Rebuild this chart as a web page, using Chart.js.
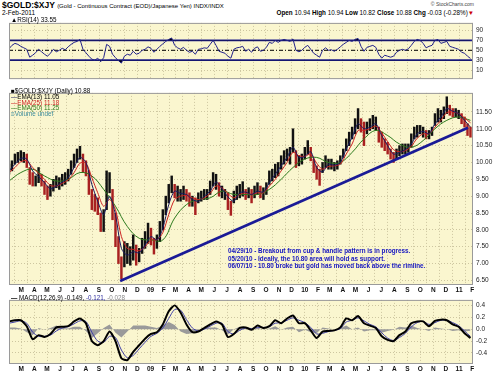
<!DOCTYPE html>
<html>
<head>
<meta charset="utf-8">
<script src="https://cdn.jsdelivr.net/npm/chart.js@4.4.0/dist/chart.umd.min.js"></script>
<style>
  body { margin: 0; background: #fff; width: 500px; height: 374px; overflow: hidden; position: relative;
         font-family: "Liberation Sans", Arial, sans-serif; }
  canvas { position: absolute; left: 0; }
  .t { position: absolute; white-space: nowrap; line-height: 1; color: #000; }
  .b { font-weight: bold; }
</style>
</head>
<body>
<div class="t b" style="left:2px;top:1px;font-size:8.5px">$GOLD:$XJY <span style="font-size:6px;font-weight:normal">(Gold - Continuous Contract (EOD)/Japanese Yen) INDX/INDX</span></div>
<div class="t" style="left:2px;top:10px;font-size:6.5px">2-Feb-2011</div>
<div class="t" style="right:26px;top:2px;font-size:5px;color:#444">© StockCharts.com</div>
<div class="t" style="right:26px;top:10px;font-size:6.3px"><b>Open</b> 10.94 <b>High</b> 10.94 <b>Low</b> 10.82 <b>Close</b> 10.88 <b>Chg</b> -0.03 (-0.28%)<span style="color:#c00">▼</span></div>

<canvas id="rsi" width="500" height="70" style="top:16px"></canvas>
<canvas id="price" width="500" height="207" style="top:86px"></canvas>
<canvas id="macd" width="500" height="79" style="top:293px"></canvas>

<div class="t" style="left:11px;top:17px;font-size:6.3px">▲RSI(14) 33.55</div>
<div class="t" style="left:11px;top:88px;font-size:6.3px;line-height:5.8px">
  <div>■$GOLD:$XJY (Daily) 10.88</div>
  <div><span style="color:#1a1a60">—</span>EMA(13) 11.05</div>
  <div><span style="color:#cc2222">—EMA(25) 11.18</span></div>
  <div><span style="color:#2d7a1d">—EMA(50) 11.25</span></div>
  <div style="color:#3a8a9a">≡Volume undef</div>
</div>
<div class="t b" style="left:228px;top:247px;font-size:6.3px;color:#1212c0;line-height:7.6px">
  <div>04/29/10 - Breakout from cup &amp; handle pattern is in progress.</div>
  <div>05/20/10 - Ideally, the 10.80 area will hold as support.</div>
  <div>06/07/10 - 10.80 broke but gold has moved back above the rimline.</div>
</div>
<div class="t" style="left:11px;top:295px;font-size:6.3px"><b>—</b> MACD(12,26,9) -0.149, <span style="color:#3030a0">-0.121,</span> <span style="color:#888">-0.028</span></div>

<script>
// axis labels
const monthLabels = ['M','A','M','J','J','A','S','O','N','D','09','F','M','A','M','J','J','A','S','O','N','D',
                     '10','F','M','A','M','J','J','A','S','O','N','D','11','F'];
const rsiTicks = [10, 30, 50, 70, 90];
const priceTicks = [6.5, 6.75, 7, 7.25, 7.5, 7.75, 8, 8.25, 8.5, 8.75, 9, 9.25, 9.5, 9.75,
                    10, 10.25, 10.5, 10.75, 11, 11.25, 11.5, 11.75];
const macdTicks = [-0.4, -0.2, 0, 0.2, 0.4];

// weekly high / low (first week = 1-Feb-2008)
const weekHigh = [
  9.95,10.05,10.25,10.3,10.35,10.3,10.25,9.85,9.7,9.6,
  9.85,9.65,9.45,9.3,9.35,9.5,9.6,9.55,9.65,9.7,
  9.8,10.05,10.25,10.4,10.48,10.25,10.05,9.75,9.2,9.05,
  8.95,8.5,8.6,9.75,9.7,9.2,8.5,7.8,7.2,7.65,
  7.6,7.5,7.85,7.55,7.45,7.75,7.95,8.2,8.05,7.75,
  7.85,8.25,8.6,9.0,9.35,9.6,9.35,9.3,9.2,9.3,
  9.2,9.1,9.0,8.95,9.1,9.15,9.2,9.2,9.45,9.7,
  9.65,9.4,9.3,9.2,9.1,8.85,9.15,9.3,9.35,9.43,
  9.2,9.25,9.2,9.3,9.4,9.3,9.25,9.4,9.75,9.8,
  9.95,10.0,10.2,10.35,10.4,10.45,11.0,10.35,10.2,10.25,
  10.45,10.65,10.45,10.1,9.9,9.8,10.0,10.2,10.1,10.1,
  10.0,10.05,10.2,10.4,10.7,10.9,11.05,11.3,11.6,11.3,
  11.2,11.2,11.3,11.4,11.35,11.05,10.9,10.7,10.6,10.4,
  10.3,10.4,10.5,10.55,10.55,10.55,10.85,11.05,11.1,11.1,
  11.05,10.95,10.95,11.05,11.45,11.6,11.55,11.65,11.95,11.7,
  11.6,11.6,11.55,11.45,11.35,11.15,11.05
];
const weekLow = [
  9.65,9.75,9.95,10.0,10.05,10.0,9.85,9.35,9.3,9.3,
  9.4,9.3,9.05,8.9,9.0,9.15,9.25,9.2,9.3,9.35,
  9.45,9.65,9.85,10.0,10.1,9.7,9.6,9.05,8.6,8.55,
  8.45,7.95,7.95,8.6,9.1,8.3,7.5,7.0,6.55,6.9,
  7.0,6.95,7.1,6.95,7.05,7.3,7.45,7.6,7.55,7.28,
  7.45,7.65,8.0,8.45,8.8,9.1,8.95,8.85,8.85,8.9,
  8.85,8.7,8.7,8.45,8.8,8.85,8.9,8.9,9.05,9.3,
  9.2,9.0,8.95,8.9,8.6,8.43,8.8,8.9,8.95,9.0,
  8.9,8.95,8.8,8.95,9.05,8.95,8.9,9.05,9.35,9.45,
  9.55,9.6,9.8,9.95,10.05,9.95,10.3,9.85,9.9,9.95,
  10.1,10.25,10.05,9.7,9.5,9.32,9.7,9.85,9.8,9.8,
  9.75,9.8,9.95,10.15,10.35,10.5,10.7,10.85,11.0,10.9,
  10.5,10.85,10.95,11.0,10.95,10.6,10.45,10.35,10.25,10.1,
  10.0,10.1,10.2,10.25,10.25,10.3,10.45,10.7,10.75,10.85,
  10.75,10.7,10.7,10.8,11.1,11.2,11.2,11.3,11.45,11.4,
  11.35,11.35,11.3,11.15,11.05,10.8,10.75
];

// moving averages, every 2 weeks (13, 25) and every 4 weeks (50)
const ema13 = [
  9.75,9.95,10.12,10.1,9.75,9.58,9.4,9.22,9.3,9.42,
  9.55,9.85,10.15,10.0,9.35,8.85,8.45,9.0,8.45,7.45,
  7.25,7.35,7.32,7.55,7.8,7.7,8.05,8.75,9.15,9.08,
  9.05,8.9,8.85,9.0,9.15,9.42,9.22,8.98,8.85,9.1,
  9.12,9.05,9.15,9.12,9.4,9.65,9.9,10.15,10.45,10.15,
  10.18,10.32,9.85,9.72,9.95,9.92,10.0,10.4,10.75,11.15,
  11.0,11.05,11.15,10.8,10.5,10.25,10.3,10.38,10.55,10.85,
  10.92,10.85,11.15,11.35,11.6,11.52,11.45,11.25,11.05
];
const ema25 = [
  9.7,9.85,10.02,10.05,9.85,9.68,9.5,9.32,9.3,9.38,
  9.48,9.7,9.98,9.98,9.55,9.1,8.7,8.9,8.6,7.8,
  7.45,7.42,7.38,7.5,7.7,7.7,7.92,8.45,8.9,9.0,
  9.02,8.95,8.9,8.95,9.08,9.3,9.25,9.08,8.95,9.05,
  9.1,9.05,9.1,9.1,9.3,9.5,9.75,10.0,10.3,10.2,
  10.18,10.25,9.98,9.8,9.88,9.9,9.95,10.25,10.55,10.95,
  10.95,11.0,11.08,10.88,10.62,10.38,10.32,10.35,10.48,10.72,
  10.85,10.85,11.05,11.25,11.48,11.5,11.45,11.32,11.18
];
const ema50 = [
  9.45,9.7,9.8,9.6,9.45,9.5,9.7,9.6,9.2,8.7,
  8.1,7.75,7.7,7.7,8.35,8.75,8.9,8.95,9.15,9.05,
  9.05,9.05,9.2,9.5,9.85,10.1,10.15,10.0,10.0,10.3,
  10.7,10.95,10.8,10.55,10.45,10.65,11.0,11.25,11.35,11.25
];
// trend line end points (day, value)
const trendDays = [263, 1086];
const trendValues = [6.48, 11.03];

// weekly RSI(14)
const rsiValues = [
  53,60,64,62,58,55,52,36,40,45,
  52,47,42,38,44,52,47,50,54,51,
  57,62,66,68,72,52,45,38,32,30,
  34,27,35,62,58,42,35,29,24,38,
  42,40,48,42,44,50,52,57,54,46,
  52,58,63,68,72,75,60,55,52,56,
  50,46,48,42,52,53,55,54,62,70,
  60,48,46,44,38,34,52,55,56,58,
  48,52,46,54,57,48,50,56,66,64,
  70,66,70,72,70,68,73,50,47,50,
  56,60,52,44,40,36,50,55,50,51,
  48,52,57,62,66,70,68,72,74,58,
  48,56,58,60,56,42,34,40,38,36,
  38,46,50,52,50,53,60,68,72,70,
  64,55,58,60,70,72,64,66,68,58,
  56,54,52,46,44,38,33.55
];

// MACD(12,26,9), every 2 weeks
const macdLine = [
  0.13,0.15,0.15,0.05,-0.17,-0.1,-0.13,-0.08,0.03,0.04,
  0.05,0.13,0.18,0.1,-0.2,-0.27,-0.2,-0.04,-0.2,-0.49,
  -0.52,-0.38,-0.27,-0.16,-0.08,-0.05,0.08,0.3,0.4,0.28,
  0.08,-0.05,-0.04,0.02,0.08,0.13,0.08,-0.13,-0.08,0.02,
  0.03,-0.01,0.06,0.02,0.05,0.15,0.1,0.18,0.23,0.1,
  0.1,-0.02,-0.15,-0.04,-0.03,-0.02,0.03,0.18,0.15,0.22,
  0.1,0.06,0.02,-0.12,-0.18,-0.2,-0.1,-0.04,0.1,0.13,
  0.13,0.05,0.14,0.16,0.15,0.08,0.04,-0.07,-0.149
];
const signalLine = [
  0.1,0.12,0.14,0.1,-0.05,-0.12,-0.12,-0.1,-0.03,0.02,
  0.04,0.09,0.14,0.13,-0.05,-0.2,-0.22,-0.12,-0.14,-0.35,
  -0.48,-0.44,-0.33,-0.22,-0.12,-0.07,0.02,0.18,0.33,0.32,
  0.16,0.02,-0.03,0.0,0.05,0.1,0.1,-0.04,-0.08,-0.02,
  0.02,0.01,0.03,0.03,0.04,0.1,0.11,0.15,0.19,0.15,
  0.11,0.03,-0.08,-0.07,-0.04,-0.02,0.01,0.12,0.15,0.19,
  0.14,0.08,0.04,-0.06,-0.15,-0.19,-0.14,-0.07,0.04,0.11,
  0.13,0.08,0.11,0.15,0.15,0.11,0.06,-0.03,-0.121
];
const macdHist = [
  0.03,0.03,0.01,-0.05,-0.1,0.02,-0.01,0.02,0.06,0.02,
  0.01,0.04,0.04,-0.03,-0.15,-0.07,0.02,0.08,-0.06,-0.14,
  -0.04,0.06,0.06,0.06,0.04,0.02,0.06,0.12,0.07,-0.04,
  -0.08,-0.07,-0.01,0.02,0.03,0.03,-0.02,-0.09,0.0,0.04,
  0.01,-0.02,0.03,-0.01,0.01,0.05,-0.01,0.03,0.04,-0.05,
  -0.01,-0.05,-0.07,0.03,0.01,0.0,0.02,0.06,0.0,0.03,
  -0.04,-0.02,-0.02,-0.06,-0.03,-0.01,0.04,0.03,0.06,0.02,
  0.0,-0.03,0.03,0.01,0.0,-0.03,-0.02,-0.04,-0.028
];

// ---- setup ----
const dayMax = 1098;
const origin = Date.UTC(2008, 1, 1);
const monthDays = monthLabels.map((_, i) => (Date.UTC(2008, 2 + i, 1) - origin) / 86400000);
const pts = (arr, step) => arr.map((v, i) => ({ x: i * step, y: v }));

const gridColor = '#cdc6a0';
const tickFont = { family: '"Liberation Sans", Arial, sans-serif', size: 6.5 };

function xAxis(showLabels) {
  return {
    type: 'linear', min: 0, max: dayMax, offset: false,
    afterBuildTicks: s => { s.ticks = monthDays.map(v => ({ value: v })); },
    afterFit: s => { s.height = showLabels ? 8 : 0; },
    grid: { color: gridColor, drawTicks: false },
    border: { display: false, dash: [1, 2] },
    ticks: { display: showLabels, autoSkip: false, maxRotation: 0, padding: 1,
             font: { ...tickFont, weight: 'bold' }, color: '#111',
             callback: (v, i) => monthLabels[i] }
  };
}
function yAxis(min, max, ticks, digits) {
  return {
    position: 'right', min: min, max: max,
    afterBuildTicks: s => { s.ticks = ticks.map(v => ({ value: v })); },
    afterFit: s => { s.width = 27; },
    grid: { color: gridColor, drawTicks: false },
    border: { display: false, dash: [1, 2] },
    ticks: { padding: 3, font: tickFont, color: '#222', callback: v => v.toFixed(digits) }
  };
}

const panel = {
  id: 'panel',
  beforeDraw(chart) {
    const { ctx, chartArea: a } = chart;
    ctx.save();
    ctx.fillStyle = '#faf6cf';
    ctx.fillRect(a.left, a.top, a.width, a.height);
    ctx.restore();
  },
  afterDraw(chart) {
    const { ctx, chartArea: a } = chart;
    ctx.save();
    ctx.strokeStyle = '#9a9a9a';
    ctx.lineWidth = 1;
    ctx.strokeRect(a.left + 0.5, a.top + 0.5, a.width - 1, a.height - 1);
    ctx.restore();
  }
};

const common = {
  responsive: false, animation: false, devicePixelRatio: 1, events: [],
  layout: { padding: { left: 9, right: 0, top: 0, bottom: 0 } },
  plugins: { legend: { display: false }, tooltip: { enabled: false } }
};

// RSI panel
const rsiLevels = {
  id: 'rsiLevels',
  beforeDatasetsDraw(chart) {
    const { ctx, chartArea: a, scales: { y } } = chart;
    ctx.save();
    ctx.strokeStyle = '#1c1c8c';
    ctx.lineWidth = 1.6;
    [70, 30].forEach(v => {
      const py = y.getPixelForValue(v);
      ctx.beginPath(); ctx.moveTo(a.left, py); ctx.lineTo(a.right, py); ctx.stroke();
    });
    ctx.strokeStyle = '#000';
    ctx.lineWidth = 1;
    ctx.setLineDash([4, 2, 1, 2]);
    const p50 = y.getPixelForValue(50);
    ctx.beginPath(); ctx.moveTo(a.left, p50); ctx.lineTo(a.right, p50); ctx.stroke();
    ctx.restore();
  }
};
new Chart(document.getElementById('rsi'), {
  type: 'line',
  data: { datasets: [
    { data: pts(rsiValues, 7), borderColor: '#22228a', borderWidth: 1, pointRadius: 0, tension: 0 },
    { data: pts(rsiValues, 7), borderWidth: 0, pointRadius: 0, tension: 0,
      fill: { target: { value: 70 }, above: '#000', below: 'rgba(0,0,0,0)' } },
    { data: pts(rsiValues, 7), borderWidth: 0, pointRadius: 0, tension: 0,
      fill: { target: { value: 30 }, above: 'rgba(0,0,0,0)', below: '#000' } }
  ] },
  options: { ...common, scales: { x: xAxis(false), y: yAxis(-8.4, 105.5, rsiTicks, 0) } },
  plugins: [panel, rsiLevels]
});

// price panel
const barColors = weekHigh.map((h, i) =>
  i > 0 && (h + weekLow[i]) < (weekHigh[i - 1] + weekLow[i - 1]) - 0.15 ? '#a82020' : '#111');
new Chart(document.getElementById('price'), {
  type: 'bar',
  data: { datasets: [
    { type: 'line', data: trendDays.map((d, i) => ({ x: d, y: trendValues[i] })),
      borderColor: '#1a1a96', borderWidth: 2.6, pointRadius: 0, order: 0 },
    { type: 'line', data: pts(ema13, 14), borderColor: '#1a1a60', borderWidth: 1, pointRadius: 0, tension: 0.3, order: 1 },
    { type: 'line', data: pts(ema25, 14), borderColor: '#cc2222', borderWidth: 1, pointRadius: 0, tension: 0.3, order: 2 },
    { type: 'line', data: pts(ema50, 28), borderColor: '#2d7a1d', borderWidth: 1, pointRadius: 0, tension: 0.4, order: 3 },
    { type: 'bar', data: weekHigh.map((h, i) => ({ x: i * 7, y: [weekLow[i], h] })),
      backgroundColor: barColors, barThickness: 1.8, grouped: false, order: 5 }
  ] },
  options: { ...common, scales: { x: xAxis(true), y: yAxis(6.363, 12.065, priceTicks, 2) } },
  plugins: [panel]
});

// MACD panel
new Chart(document.getElementById('macd'), {
  type: 'line',
  data: { datasets: [
    { data: pts(macdLine, 14), borderColor: '#000', borderWidth: 2, pointRadius: 0, tension: 0.2, order: 1 },
    { data: pts(signalLine, 14), borderColor: '#4040a8', borderWidth: 1, pointRadius: 0, tension: 0.3, order: 2 },
    { data: pts(macdHist, 14), borderWidth: 0, pointRadius: 0, tension: 0,
      fill: 'origin', backgroundColor: '#9a9a9a', order: 3 }
  ] },
  options: { ...common, scales: { x: xAxis(true), y: yAxis(-0.585, 0.492, macdTicks, 1) } },
  plugins: [panel]
});
</script>
</body>
</html>
